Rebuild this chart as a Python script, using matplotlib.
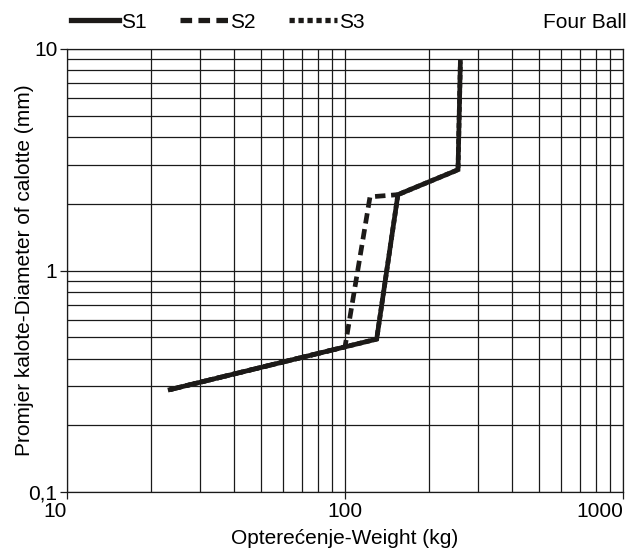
import matplotlib
matplotlib.use("Agg")
import matplotlib.pyplot as plt
from matplotlib.ticker import LogLocator, NullFormatter, FixedFormatter, FixedLocator

plt.rcParams['font.family'] = ['Liberation Sans', 'DejaVu Sans']

# Data
s1_x = [23.5, 100, 130, 155, 255, 260]
s1_y = [0.29, 0.452, 0.49, 2.2, 2.85, 8.7]
s2_x = [23.5, 100, 123, 155]
s2_y = [0.29, 0.452, 2.15, 2.2]
s3_x = [23.5, 100, 130, 155, 255, 260]
s3_y = [0.29, 0.452, 0.49, 2.2, 2.85, 8.7]

x_ticks = [10, 100, 1000]
x_ticklabels = ["10", "100", "1000"]
y_ticks = [0.1, 1, 10]
y_ticklabels = ["0,1", "1", "10"]

FS = 15
fig = plt.figure(figsize=(6.31, 5.52), dpi=100)
ax = fig.add_axes([67/631, 1 - 492/552, (623-67)/631, (492-49)/552])

ax.set_xscale('log')
ax.set_yscale('log')
ax.set_xlim(10, 1000)
ax.set_ylim(0.1, 10)

col = '#1c1a18'
lw = 3.4
l3, = ax.plot(s3_x, s3_y, color=col, lw=lw, linestyle=(0, (1.0, 0.7)), label='S3', zorder=3)
l2, = ax.plot(s2_x, s2_y, color=col, lw=lw, linestyle=(0, (2.2, 1.2)), label='S2', zorder=4)
l1, = ax.plot(s1_x, s1_y, color=col, lw=lw, linestyle='-', solid_joinstyle='miter', label='S1', zorder=5)

ax.xaxis.set_major_locator(FixedLocator(x_ticks))
ax.xaxis.set_major_formatter(FixedFormatter(x_ticklabels))
ax.yaxis.set_major_locator(FixedLocator(y_ticks))
ax.yaxis.set_major_formatter(FixedFormatter(y_ticklabels))
ax.xaxis.set_minor_locator(LogLocator(base=10, subs=range(2, 10)))
ax.yaxis.set_minor_locator(LogLocator(base=10, subs=range(2, 10)))
ax.xaxis.set_minor_formatter(NullFormatter())
ax.yaxis.set_minor_formatter(NullFormatter())

ax.grid(True, which='both', color='#1a1a1a', lw=0.9)
ax.set_axisbelow(True)
ax.tick_params(which='major', direction='out', length=5, width=0.9, color='#1a1a1a',
               labelsize=FS, pad=2)
ax.tick_params(which='minor', length=0)
for sp in ax.spines.values():
    sp.set_color('#1a1a1a')
    sp.set_linewidth(0.9)

ticks = ax.xaxis.get_major_ticks()
ticks[0].label1.set_horizontalalignment('right')
ticks[-1].label1.set_horizontalalignment('right')

ax.set_xlabel('Opterećenje-Weight (kg)', fontsize=FS, labelpad=6)
ax.set_ylabel('Promjer kalote-Diameter of calotte (mm)', fontsize=FS, labelpad=-4)

leg = fig.legend(handles=[l1, l2, l3], loc='center left',
                 bbox_to_anchor=(71/631, 1 - 22/552),
                 ncol=3, frameon=False, fontsize=FS, handlelength=2.3,
                 handletextpad=0.1, columnspacing=1.6, borderaxespad=0, borderpad=0)
for h in leg.legend_handles:
    h.set_linewidth(3.8)

fig.text(627/631, 1 - 22/552, 'Four Ball', fontsize=FS, ha='right', va='center')

fig.savefig('out.png', dpi=100)
